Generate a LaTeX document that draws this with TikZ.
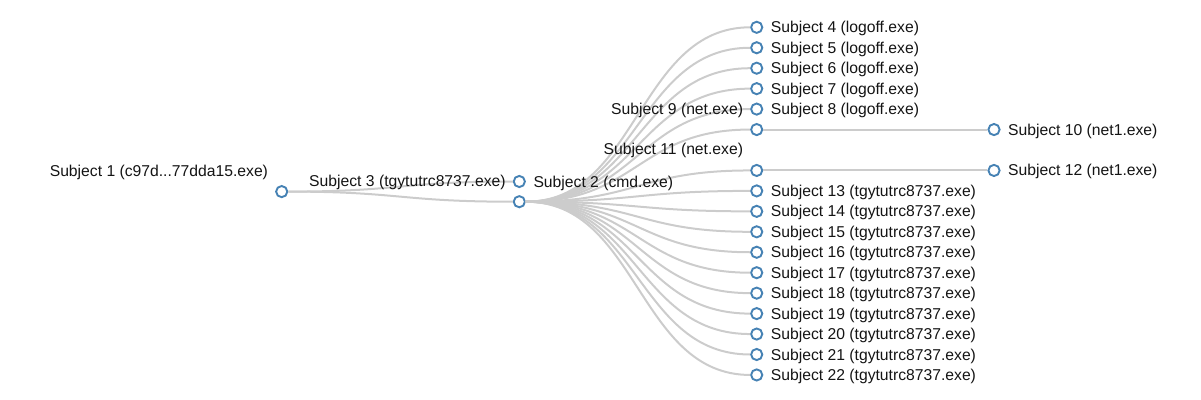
\documentclass[tikz,border=0pt]{standalone}
\usepackage{fontspec}
\setmainfont{Liberation Sans}
\usetikzlibrary{positioning}

\definecolor{nodeblue}{RGB}{70,130,180}
\definecolor{linkgray}{RGB}{204,204,204}

\begin{document}
\begin{tikzpicture}[
    x=1pt, y=-1pt,
    subj/.style={circle, draw=nodeblue, fill=white, line width=1.9pt, minimum size=11.2pt, inner sep=0pt},
    link/.style={draw=linkgray, line width=2pt},
    leaflbl/.style={anchor=base west, inner sep=0pt, xshift=14pt, yshift=-5.5pt, font=\fontsize{15.7}{19}\selectfont, text=black!92},
    parentlbl/.style={anchor=base east, inner sep=0pt, xshift=-13.5pt, yshift=15.5pt, font=\fontsize{15.7}{19}\selectfont, text=black!92}
  ]
    \useasboundingbox (0,0) rectangle (1201,399);

    % tree nodes
    \node[subj] (s1) at (281.7,191.6) {};
    \node[subj] (s2) at (519.3,181.5) {};
    \node[subj] (s3) at (519.3,201.7) {};
    \node[subj] (s4) at (756.7,27.3) {};
    \node[subj] (s5) at (756.7,47.75) {};
    \node[subj] (s6) at (756.7,68.2) {};
    \node[subj] (s7) at (756.7,88.65) {};
    \node[subj] (s8) at (756.7,109.1) {};
    \node[subj] (s9) at (756.7,129.55) {};
    \node[subj] (s10) at (994,129.55) {};
    \node[subj] (s11) at (756.7,170.45) {};
    \node[subj] (s12) at (994,170.45) {};
    \node[subj] (s13) at (756.7,190.9) {};
    \node[subj] (s14) at (756.7,211.35) {};
    \node[subj] (s15) at (756.7,231.8) {};
    \node[subj] (s16) at (756.7,252.25) {};
    \node[subj] (s17) at (756.7,272.7) {};
    \node[subj] (s18) at (756.7,293.15) {};
    \node[subj] (s19) at (756.7,313.6) {};
    \node[subj] (s20) at (756.7,334.05) {};
    \node[subj] (s21) at (756.7,354.5) {};
    \node[subj] (s22) at (756.7,374.95) {};

    % links
    \draw[link] (s1) .. controls (400.5,191.6) and (400.5,181.5) .. (s2);
    \draw[link] (s1) .. controls (400.5,191.6) and (400.5,201.7) .. (s3);
    \draw[link] (s3) .. controls (638,201.7) and (638,27.3) .. (s4);
    \draw[link] (s3) .. controls (638,201.7) and (638,47.75) .. (s5);
    \draw[link] (s3) .. controls (638,201.7) and (638,68.2) .. (s6);
    \draw[link] (s3) .. controls (638,201.7) and (638,88.65) .. (s7);
    \draw[link] (s3) .. controls (638,201.7) and (638,109.1) .. (s8);
    \draw[link] (s3) .. controls (638,201.7) and (638,129.55) .. (s9);
    \draw[link] (s3) .. controls (638,201.7) and (638,170.45) .. (s11);
    \draw[link] (s3) .. controls (638,201.7) and (638,190.9) .. (s13);
    \draw[link] (s3) .. controls (638,201.7) and (638,211.35) .. (s14);
    \draw[link] (s3) .. controls (638,201.7) and (638,231.8) .. (s15);
    \draw[link] (s3) .. controls (638,201.7) and (638,252.25) .. (s16);
    \draw[link] (s3) .. controls (638,201.7) and (638,272.7) .. (s17);
    \draw[link] (s3) .. controls (638,201.7) and (638,293.15) .. (s18);
    \draw[link] (s3) .. controls (638,201.7) and (638,313.6) .. (s19);
    \draw[link] (s3) .. controls (638,201.7) and (638,334.05) .. (s20);
    \draw[link] (s3) .. controls (638,201.7) and (638,354.5) .. (s21);
    \draw[link] (s3) .. controls (638,201.7) and (638,374.95) .. (s22);
    \draw[link] (s9) -- (s10);
    \draw[link] (s11) -- (s12);

    % labels
    \node[parentlbl] (t1) at (s1) {Subject 1 (c97d...77dda15.exe)};
    \node[leaflbl] (t2) at (s2) {Subject 2 (cmd.exe)};
    \node[parentlbl] (t3) at (s3) {Subject 3 (tgytutrc8737.exe)};
    \node[leaflbl] (t4) at (s4) {Subject 4 (logoff.exe)};
    \node[leaflbl] (t5) at (s5) {Subject 5 (logoff.exe)};
    \node[leaflbl] (t6) at (s6) {Subject 6 (logoff.exe)};
    \node[leaflbl] (t7) at (s7) {Subject 7 (logoff.exe)};
    \node[leaflbl] (t8) at (s8) {Subject 8 (logoff.exe)};
    \node[parentlbl] (t9) at (s9) {Subject 9 (net.exe)};
    \node[leaflbl] (t10) at (s10) {Subject 10 (net1.exe)};
    \node[parentlbl] (t11) at (s11) {Subject 11 (net.exe)};
    \node[leaflbl] (t12) at (s12) {Subject 12 (net1.exe)};
    \node[leaflbl] (t13) at (s13) {Subject 13 (tgytutrc8737.exe)};
    \node[leaflbl] (t14) at (s14) {Subject 14 (tgytutrc8737.exe)};
    \node[leaflbl] (t15) at (s15) {Subject 15 (tgytutrc8737.exe)};
    \node[leaflbl] (t16) at (s16) {Subject 16 (tgytutrc8737.exe)};
    \node[leaflbl] (t17) at (s17) {Subject 17 (tgytutrc8737.exe)};
    \node[leaflbl] (t18) at (s18) {Subject 18 (tgytutrc8737.exe)};
    \node[leaflbl] (t19) at (s19) {Subject 19 (tgytutrc8737.exe)};
    \node[leaflbl] (t20) at (s20) {Subject 20 (tgytutrc8737.exe)};
    \node[leaflbl] (t21) at (s21) {Subject 21 (tgytutrc8737.exe)};
    \node[leaflbl] (t22) at (s22) {Subject 22 (tgytutrc8737.exe)};
  \end{tikzpicture}
\end{document}
